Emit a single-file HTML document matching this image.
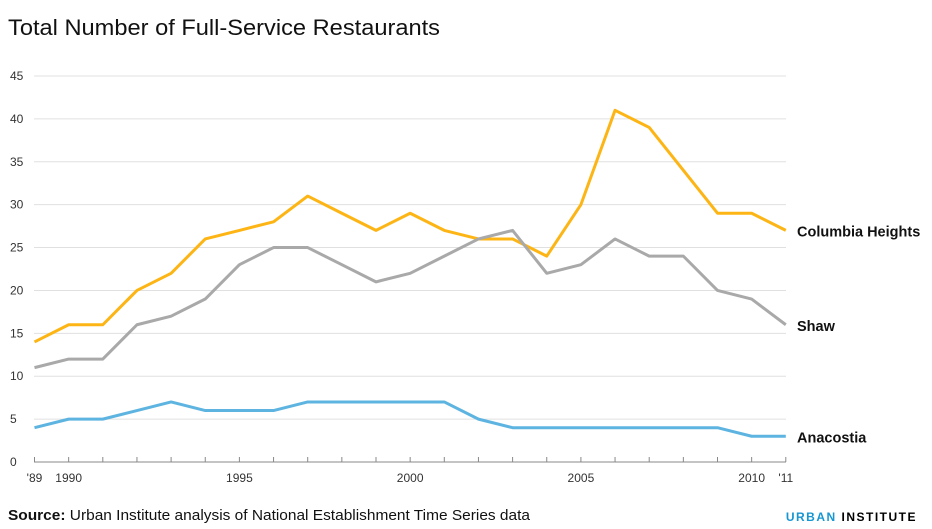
<!DOCTYPE html>
<html><head><meta charset="utf-8"><style>
body{margin:0;background:#fff;width:932px;height:524px;overflow:hidden;font-family:"Liberation Sans",sans-serif}
</style></head><body>
<svg id="s" width="932" height="524" xmlns="http://www.w3.org/2000/svg" font-family="Liberation Sans, sans-serif">
<text x="8" y="35" font-size="22" fill="#111" textLength="432" lengthAdjust="spacingAndGlyphs">Total Number of Full-Service Restaurants</text>
<text x="8" y="520" font-size="15" fill="#111" textLength="522" lengthAdjust="spacingAndGlyphs"><tspan font-weight="bold">Source:</tspan> Urban Institute analysis of National Establishment Time Series data</text>
<text x="917" y="521" font-size="12" font-weight="bold" fill="#1696d2" text-anchor="end" letter-spacing="1.5">URBAN <tspan fill="#000">INSTITUTE</tspan></text>
<g id="g"></g>
</svg>
<script>
var g=document.getElementById('g'),h='';
function X(yr){return 34.5+(yr-1989)*34.15}
function Y(v){return 462-8.578*v}
for(var v=0;v<=45;v+=5){var y=Y(v);
h+='<line x1="34" x2="786" y1="'+y+'" y2="'+y+'" stroke="'+(v==0?'#888':'#e0e0e0')+'" stroke-width="1"/>';
h+='<text x="10" y="'+(y+4)+'" font-size="12" fill="#333">'+v+'</text>';}
var xl=[[1989,"'89"],[1990,"1990"],[1995,"1995"],[2000,"2000"],[2005,"2005"],[2010,"2010"],[2011,"'11"]];
for(var yr=1989;yr<=2011;yr++){h+='<line x1="'+X(yr)+'" x2="'+X(yr)+'" y1="457" y2="462" stroke="#888"/>';}
xl.forEach(function(a){h+='<text x="'+X(a[0])+'" y="482" font-size="12" fill="#333" text-anchor="middle">'+a[1]+'</text>';});
var S=[["#fdb515",[14,16,16,20,22,26,27,28,31,29,27,29,27,26,26,24,30,41,39,34,29,29,27],"Columbia Heights"],
["#a9a9a9",[11,12,12,16,17,19,23,25,25,23,21,22,24,26,27,22,23,26,24,24,20,19,16],"Shaw"],
["#5eb4e0",[4,5,5,6,7,6,6,6,7,7,7,7,7,5,4,4,4,4,4,4,4,3,3],"Anacostia"]];
S.forEach(function(s){var p=s[1].map(function(v,i){return X(1989+i)+','+Y(v)}).join(' ');
h+='<polyline points="'+p+'" fill="none" stroke="'+s[0]+'" stroke-width="3" stroke-linejoin="round"/>';
h+='<text x="797" y="'+(Y(s[1][22])+6)+'" font-size="14.5" font-weight="bold" fill="#111">'+s[2]+'</text>';});
g.innerHTML=h;
</script>
</body></html>
